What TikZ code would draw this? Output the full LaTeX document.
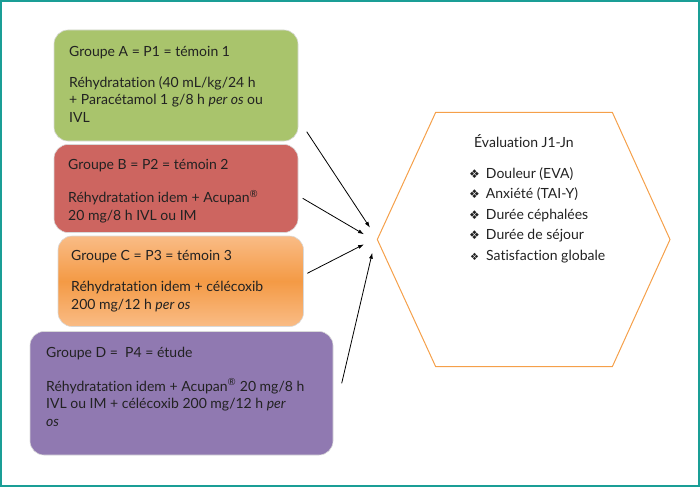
\documentclass[tikz,border=0pt]{standalone}
\usepackage{fontspec}
\setmainfont{Lato}[Ligatures=NoCommon]
\newfontfamily\symfont{DejaVu Sans}
\usetikzlibrary{arrows.meta}
\definecolor{frameteal}{HTML}{1A9E96}
\definecolor{grpA}{HTML}{A9C46C}
\definecolor{grpB}{HTML}{CD6560}
\definecolor{grpCmid}{HTML}{F49A45}
\definecolor{grpCedge}{HTML}{F9BC86}
\definecolor{grpD}{HTML}{9079B1}
\definecolor{hexorange}{HTML}{F5A04A}
\definecolor{txt}{HTML}{222222}
\tikzset{
  x=1pt, y=-1pt,
  grpbox/.style={rounded corners=14pt, draw=white!85!black, line width=0.6pt},
  grptitle/.style={anchor=base west, inner sep=0pt, font=\fontsize{14}{17.5}\selectfont, text=txt},
  grpbody/.style={anchor=base west, inner sep=0pt, font=\fontsize{14}{17.5}\selectfont, text=txt, align=left},
  evalitem/.style={anchor=base west, inner sep=0pt, font=\fontsize{14}{20.6}\selectfont, text=txt, align=left},
  link/.style={line width=0.8pt, -{Latex[length=6pt,width=4pt]}}
}
\begin{document}
\begin{tikzpicture}
\useasboundingbox (0,0) rectangle (700,487);
\draw[frameteal, line width=1.5pt] (1,1) rectangle (699,486);

% boxes
\path[grpbox, fill=grpA] (54,30) rectangle (298,141);
\path[grpbox, fill=grpB] (54,144.5) rectangle (298,232.5);
\shade[grpbox, top color=grpCedge, bottom color=grpCedge, middle color=grpCmid] (58,236) rectangle (303.5,326.5);
\path[grpbox, fill=grpD] (30,331.5) rectangle (333,455);

% texts
\node[grptitle] (tA) at (69,56.5) {Groupe A = P1 = témoin 1};
\node[grpbody, anchor=north west] (bA) at (69,76) {Réhydratation (40 mL/kg/24 h\\+ Paracétamol 1 g/8 h \textit{per os} ou\\IVL};

\node[grptitle] (tB) at (68,169) {Groupe B = P2 = témoin 2};
\node[grpbody, anchor=north west] (bB) at (68,190) {Réhydratation idem + Acupan\textsuperscript{®}\\20 mg/8 h IVL ou IM};

\node[grptitle] (tC) at (71,260) {Groupe C = P3 = témoin 3};
\node[grpbody, anchor=north west] (bC) at (71,281) {Réhydratation idem + célécoxib\\200 mg/12 h \textit{per os}};

\node[grptitle] (tD) at (46,357.5) {Groupe D =\ \ P4 = étude};
\node[grpbody, anchor=north west] (bD) at (46,378.5) {Réhydratation idem + Acupan\textsuperscript{®} 20 mg/8 h\\IVL ou IM + célécoxib 200 mg/12 h \textit{per}\\\textit{os}};

% hexagon
\draw[hexorange, line width=1pt] (435.7,112.3) -- (612.3,112.3) -- (670,239.5) -- (612.3,366.7) -- (435.7,366.7) -- (377.3,239.5) -- cycle;
\node[grptitle] (tE) at (474,147.5) {Évaluation J1-Jn};
\node[evalitem, anchor=north west] (bE) at (469,167) {{\symfont\fontsize{12}{12}\selectfont ❖}\hspace{6pt}Douleur (EVA)\\{\symfont\fontsize{12}{12}\selectfont ❖}\hspace{6pt}Anxiété (TAI-Y)\\{\symfont\fontsize{12}{12}\selectfont ❖}\hspace{6pt}Durée céphalées\\{\symfont\fontsize{12}{12}\selectfont ❖}\hspace{6pt}Durée de séjour\\\hspace{1pt}{\symfont\fontsize{10}{10}\selectfont ❖}\hspace{7pt}Satisfaction globale};

% connectors
\coordinate (sA) at (306.7,131.7);
\coordinate (sB) at (302.7,198.3);
\coordinate (sC) at (307.3,273.3);
\coordinate (sD) at (341.7,383.3);
\coordinate (eA) at (370,227.7);
\coordinate (eB) at (364,234.3);
\coordinate (eC) at (364,244.3);
\coordinate (eD) at (372.3,252.7);
\draw[link] (sA) -- (eA);
\draw[link] (sB) -- (eB);
\draw[link] (sC) -- (eC);
\draw[link] (sD) -- (eD);
\end{tikzpicture}
\end{document}
